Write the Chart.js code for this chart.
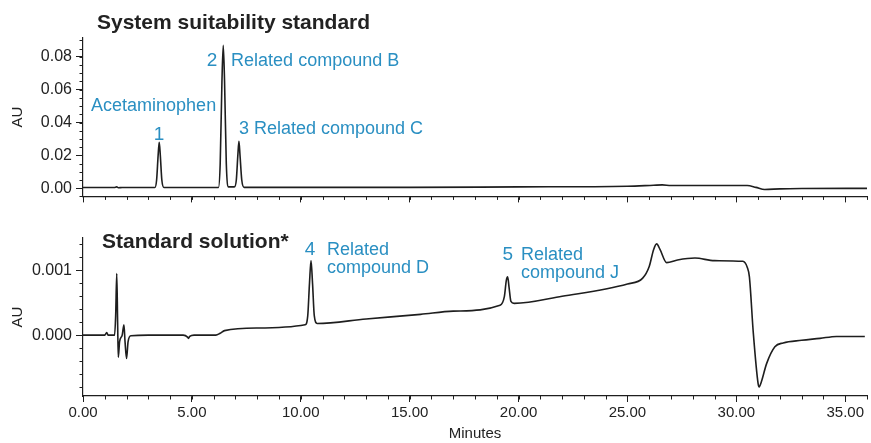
<!DOCTYPE html>
<html>
<head>
<meta charset="utf-8">
<script src="https://cdn.jsdelivr.net/npm/chart.js@4.4.1/dist/chart.umd.min.js"></script>
<style>
body { margin: 0; background: #fff; width: 871px; height: 443px; overflow: hidden; position: relative; }
canvas { position: absolute; left: 0; }
</style>
</head>
<body>
<canvas id="topChart" width="871" height="210" style="top:0"></canvas>
<canvas id="bottomChart" width="871" height="233" style="top:210px"></canvas>
<script>
// x axis (minutes)
var xTicks = [0, 5, 10, 15, 20, 25, 30, 35];

// System suitability standard trace
var topTime = [0, 1.4, 1.5, 1.55, 1.62, 1.8, 3.3, 3.38, 3.45, 3.5, 3.55, 3.62, 3.72,
  6.22, 6.3, 6.38, 6.44, 6.5, 6.58, 6.68, 6.95, 7.04, 7.11, 7.16, 7.21, 7.29, 7.4,
  15, 20, 25, 26.2, 26.6, 27, 30.5, 30.9, 31.3, 32, 33, 36];
var topAU = [0.0004, 0.0004, 0.0006, 0.0009, 0.0003, 0.0004, 0.0004, 0.005, 0.02, 0.028, 0.02, 0.005, 0.0004,
  0.0004, 0.015, 0.065, 0.087, 0.065, 0.015, 0.0008, 0.0008, 0.005, 0.02, 0.0285, 0.02, 0.005, 0.0005,
  0.0005, 0.0008, 0.0012, 0.0018, 0.002, 0.0016, 0.0016, 0.0005, -0.0008, -0.0004, -0.0002, -0.0001];
var topTicks = [0, 0.02, 0.04, 0.06, 0.08];

// Standard solution trace
var botTime = [0, 1.0, 1.09, 1.15, 1.45, 1.5, 1.55, 1.59, 1.62, 1.68, 1.8, 1.88, 1.93, 2.0, 2.07, 2.2,
  3, 4.6, 4.8, 4.84, 4.9, 5.1, 6.1, 6.3, 6.5, 8, 10.2, 10.32, 10.4, 10.47, 10.54, 10.62, 10.75,
  13, 15.5, 17, 19.15, 19.35, 19.44, 19.5, 19.56, 19.65, 19.8, 22, 25, 25.7, 26.0, 26.2, 26.34,
  26.5, 26.8, 27.3, 28.1, 29, 30.3, 30.5, 30.6, 30.78, 31.0, 31.05, 31.15, 31.39, 31.77, 32.15,
  33, 33.84, 34.6, 35.9];
var botAU = [0, 0, 0.00004, 0, 0, 0.0003, 0.00095, 0.0002, -0.00034, -0.0001, 0, 0.00016, -0.0001, -0.00036, -0.0001, -0.00001,
  0, 0, -0.00003, -0.00005, -0.00002, 0, 0, 0.00003, 0.00007, 0.00011, 0.00016, 0.0003, 0.0008, 0.00115, 0.0008, 0.0003, 0.00018,
  0.00025, 0.00032, 0.00037, 0.00046, 0.0006, 0.00085, 0.0009, 0.00075, 0.00052, 0.00049, 0.0006, 0.00079, 0.00088, 0.00106, 0.00132, 0.00141,
  0.00132, 0.00112, 0.00116, 0.00119, 0.00115, 0.00114, 0.00105, 0.0009, 0.00003, -0.00075, -0.0008, -0.00072, -0.00044, -0.00018, -0.00012,
  -0.00008, -0.00005, -0.00002, -0.00002];
var botTicks = [0, 0.001];

// peak labels
var topNotes = ["Acetaminophen", "1", "2", "Related compound B", "3 Related compound C"];
var botNotes = ["4", "Related", "compound D", "5", "Related", "compound J"];

var INK = '#1e1e1e';
var BLUE = '#2a8fc2';
Chart.defaults.font.family = "'Liberation Sans', Arial, sans-serif";

function makeChart(id, time, au, o) {
  var pts = time.map(function (t, i) { return { x: t, y: au[i] }; });

  var extras = {
    id: 'extras',
    afterDraw: function (chart) {
      var ctx = chart.ctx, xs = chart.scales.x, ys = chart.scales.y;
      ctx.save();
      // minor ticks
      ctx.strokeStyle = INK;
      ctx.lineWidth = 1;
      ctx.beginPath();
      for (var i = 0; i <= 36; i++) {
        var px = Math.round(xs.getPixelForValue(i)) + 0.5;
        ctx.moveTo(px, xs.top);
        ctx.lineTo(px, xs.top + 3.5);
      }
      var first = Math.ceil(o.yMin / o.yMinor - 1e-6);
      for (var j = first; j * o.yMinor <= o.yMax + 1e-9; j++) {
        var py = Math.round(ys.getPixelForValue(j * o.yMinor)) + 0.5;
        ctx.moveTo(ys.right - 3.5, py);
        ctx.lineTo(ys.right, py);
      }
      ctx.stroke();
      // panel title
      ctx.fillStyle = '#222';
      ctx.font = "bold 21px 'Liberation Sans', Arial, sans-serif";
      ctx.textAlign = 'left';
      ctx.textBaseline = 'middle';
      ctx.fillText(o.title, o.titleX, o.titleY);
      // peak labels
      ctx.fillStyle = BLUE;
      o.notes.forEach(function (txt, k) {
        var p = o.notePos[k];
        ctx.font = (txt.length === 1 ? "19px" : "18px") + " 'Liberation Sans', Arial, sans-serif";
        ctx.textAlign = p[2];
        ctx.fillText(txt, xs.getPixelForValue(p[0]), ys.getPixelForValue(p[1]));
      });
      ctx.restore();
    }
  };

  return new Chart(document.getElementById(id).getContext('2d'), {
    type: 'scatter',
    data: {
      datasets: [{
        data: pts,
        showLine: true,
        borderColor: INK,
        borderWidth: 1.6,
        pointRadius: 0,
        cubicInterpolationMode: 'monotone'
      }]
    },
    options: {
      responsive: false,
      animation: false,
      layout: { padding: { top: o.padTop, right: 4, left: 0, bottom: 0 } },
      plugins: { legend: { display: false }, tooltip: { enabled: false } },
      scales: {
        x: {
          type: 'linear',
          min: 0,
          max: 36,
          afterBuildTicks: function (s) { s.ticks = xTicks.map(function (v) { return { value: v }; }); },
          afterFit: function (s) { s.height = o.xHeight; },
          ticks: {
            display: o.showX,
            color: '#222',
            font: { size: 15 },
            maxRotation: 0,
            padding: 2,
            callback: function (v) { return v.toFixed(2); }
          },
          grid: { drawOnChartArea: false, drawTicks: true, tickLength: 6, color: INK },
          border: { color: INK, width: 1.2 },
          title: { display: o.showX, text: 'Minutes', color: '#222', font: { size: 15 }, padding: { top: 0, bottom: 0 } }
        },
        y: {
          min: o.yMin,
          max: o.yMax,
          afterBuildTicks: function (s) { s.ticks = o.yTicks.map(function (v) { return { value: v }; }); },
          afterFit: function (s) { s.width = 83; },
          ticks: {
            color: '#222',
            font: { size: 16 },
            padding: 4,
            callback: function (v) { return v.toFixed(o.digits); }
          },
          grid: { drawOnChartArea: false, drawTicks: true, tickLength: 7, color: INK },
          border: { color: INK, width: 1.2 },
          title: { display: true, text: 'AU', color: '#222', font: { size: 15 }, padding: { top: 9, bottom: 0 } }
        }
      }
    },
    plugins: [extras]
  });
}

makeChart('topChart', topTime, topAU, {
  yMin: -0.005, yMax: 0.0915, yTicks: topTicks, yMinor: 0.005, digits: 2,
  showX: false, xHeight: 12, padTop: 38,
  title: 'System suitability standard', titleX: 97, titleY: 23,
  notes: topNotes,
  notePos: [[0.37, 0.05, 'left'], [3.49, 0.0325, 'center'], [5.92, 0.0776, 'center'], [6.8, 0.0776, 'left'], [7.16, 0.0362, 'left']]
});

makeChart('bottomChart', botTime, botAU, {
  yMin: -0.00094, yMax: 0.0015, yTicks: botTicks, yMinor: 0.0002, digits: 3,
  showX: true, xHeight: 47, padTop: 28,
  title: 'Standard solution*', titleX: 102, titleY: 32,
  notes: botNotes,
  notePos: [[10.42, 0.00132, 'center'], [11.2, 0.00132, 'left'], [11.2, 0.00104, 'left'],
            [19.51, 0.00124, 'center'], [20.11, 0.00124, 'left'], [20.11, 0.00096, 'left']]
});
</script>
</body>
</html>
